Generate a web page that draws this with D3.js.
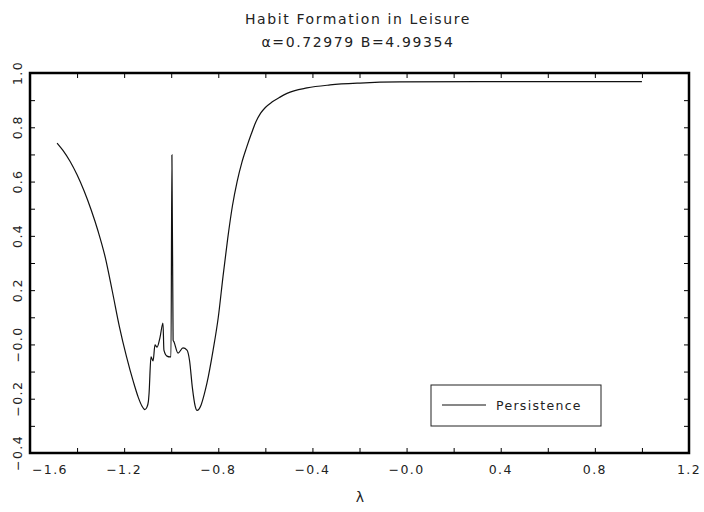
<!DOCTYPE html>
<html>
<head>
<meta charset="utf-8">
<script src="https://cdn.jsdelivr.net/npm/d3@7"></script>
<style>
  body { margin: 0; background: #fff; }
  text { font-family: "DejaVu Sans", sans-serif; fill: #222; }
  .tick line { stroke: #000; stroke-width: 1; }
  .domain { display: none; }
</style>
</head>
<body>
<div id="chart"></div>
<script>
// --------------------------------------
//  Data
// --------------------------------------

const lambda = [
  -1.485, -1.460, -1.430, -1.400, -1.370, -1.340, -1.310, -1.280, -1.250, -1.220,
  -1.190, -1.160, -1.140, -1.125, -1.112, -1.103, -1.097, -1.094, -1.086, -1.077,
  -1.069, -1.060, -1.048, -1.035, -1.031, -1.018, -1.005, -1.001, -0.997, -0.992,
  -0.988, -0.971, -0.950, -0.933, -0.922, -0.910, -0.898, -0.890, -0.882, -0.873,
  -0.860, -0.848, -0.822, -0.800, -0.780, -0.760, -0.740, -0.720, -0.700, -0.680,
  -0.660, -0.640, -0.620, -0.600, -0.572, -0.540, -0.508, -0.423, -0.325, -0.198,
  -0.028, 0.312, 0.650, 1.000
];

const persistence = [
  0.742, 0.715, 0.675, 0.625, 0.565, 0.495, 0.415, 0.320, 0.195, 0.065,
  -0.045, -0.140, -0.195, -0.226, -0.240, -0.231, -0.210, -0.179, -0.046, -0.061,
  -0.002, -0.010, 0.024, 0.079, -0.021, -0.043, -0.046, -0.046, 0.698, 0.016,
  0.009, -0.032, -0.013, -0.021, -0.060, -0.160, -0.228, -0.243, -0.238, -0.223,
  -0.185, -0.142, -0.021, 0.100, 0.250, 0.390, 0.510, 0.600, 0.670, 0.725,
  0.775, 0.820, 0.852, 0.873, 0.893, 0.910, 0.925, 0.945, 0.956, 0.963,
  0.967, 0.968, 0.968, 0.968
];

const xLabelValues = [-1.6, -1.2, -0.8, -0.4, 0.0, 0.4, 0.8, 1.2];
const xLabels = ["\u22121.6", "\u22121.2", "\u22120.8", "\u22120.4", "\u22120.0", "0.4", "0.8", "1.2"];
const yLabelValues = [1.0, 0.8, 0.6, 0.4, 0.2, 0.0, -0.2, -0.4];
const yLabels = ["1.0", "0.8", "0.6", "0.4", "0.2", "\u22120.0", "\u22120.2", "\u22120.4"];

const data = lambda.map((l, i) => ({l: l, p: persistence[i]}));

// --------------------------------------
//  Margin and canvas
// --------------------------------------

const margin = {top: 73, right: 15, bottom: 59, left: 30};
const width = 704;
const height = 512;
const innerwidth = width - margin.left - margin.right;
const innerheight = height - margin.top - margin.bottom;

const svg = d3.select("#chart")
  .append("svg")
    .attr("width", width)
    .attr("height", height);

const inner = svg.append("g")
    .attr("transform", `translate(${margin.left}, ${margin.top})`);

// --------------------------------------
//  Scales
// --------------------------------------

const x = d3.scaleLinear().domain([-1.6, 1.2]).range([0, innerwidth]);
const y = d3.scaleLinear().domain([-0.4, 1.0]).range([innerheight, 0]);

const xMinor = d3.range(0, 15).map(i => -1.6 + i * 0.2);
const yMinor = d3.range(0, 15).map(i => -0.4 + i * 0.1);

// --------------------------------------
//  Axes (ticks inward on all four sides)
// --------------------------------------

inner.append("g")
    .attr("transform", `translate(0, ${innerheight})`)
    .call(d3.axisBottom(x).tickValues(xMinor).tickSize(-5).tickFormat(""));
inner.append("g")
    .call(d3.axisTop(x).tickValues(xMinor).tickSize(-5).tickFormat(""));
inner.append("g")
    .call(d3.axisLeft(y).tickValues(yMinor).tickSize(-5).tickFormat(""));
inner.append("g")
    .attr("transform", `translate(${innerwidth}, 0)`)
    .call(d3.axisRight(y).tickValues(yMinor).tickSize(-5).tickFormat(""));

// x labels
inner.append("g")
    .selectAll("text")
    .data(xLabelValues)
    .join("text")
    .attr("x", d => x(d))
    .attr("dx", (d, i) => i === 0 ? 2 : 0)
    .attr("y", innerheight + 21)
    .attr("text-anchor", (d, i) => i === 0 ? "start" : "middle")
    .style("font-size", "12.5px")
    .style("letter-spacing", "1.4px")
    .text((d, i) => xLabels[i]);

// y labels (rotated)
inner.append("g")
    .selectAll("text")
    .data(yLabelValues)
    .join("text")
    .attr("transform", d => `translate(-8, ${y(d)}) rotate(-90)`)
    .attr("text-anchor", "middle")
    .style("font-size", "12.5px")
    .style("letter-spacing", "1.4px")
    .text((d, i) => yLabels[i]);

// frame
inner.append("rect")
    .attr("width", innerwidth)
    .attr("height", innerheight)
    .attr("fill", "none")
    .attr("stroke", "#000")
    .attr("stroke-width", 2.5);

// --------------------------------------
//  Line
// --------------------------------------

const line = d3.line()
    .x(d => x(d.l))
    .y(d => y(d.p))
    .curve(d3.curveMonotoneX);

inner.append("path")
    .datum(data)
    .attr("d", line)
    .attr("fill", "none")
    .attr("stroke", "#111")
    .attr("stroke-width", 1.2);

// --------------------------------------
//  Titles
// --------------------------------------

svg.append("text")
    .attr("x", 358)
    .attr("y", 24)
    .attr("text-anchor", "middle")
    .style("font-size", "14px")
    .style("letter-spacing", "1.6px")
    .text("Habit Formation in Leisure");

svg.append("text")
    .attr("x", 358)
    .attr("y", 47)
    .attr("text-anchor", "middle")
    .style("font-size", "14px")
    .style("letter-spacing", "1.6px")
    .text("\u03b1=0.72979 B=4.99354");

svg.append("text")
    .attr("x", 360)
    .attr("y", 502)
    .attr("text-anchor", "middle")
    .style("font-size", "14px")
    .text("\u03bb");

// --------------------------------------
//  Legend
// --------------------------------------

const legend = svg.append("g").attr("transform", "translate(431, 385)");

legend.append("rect")
    .attr("width", 170)
    .attr("height", 41)
    .attr("fill", "#fff")
    .attr("stroke", "#222")
    .attr("stroke-width", 1);

legend.append("line")
    .attr("x1", 11).attr("x2", 55)
    .attr("y1", 20).attr("y2", 20)
    .attr("stroke", "#111")
    .attr("stroke-width", 1.2);

legend.append("text")
    .attr("x", 65)
    .attr("y", 25)
    .style("font-size", "12.5px")
    .style("letter-spacing", "1.3px")
    .text("Persistence");
</script>
</body>
</html>
